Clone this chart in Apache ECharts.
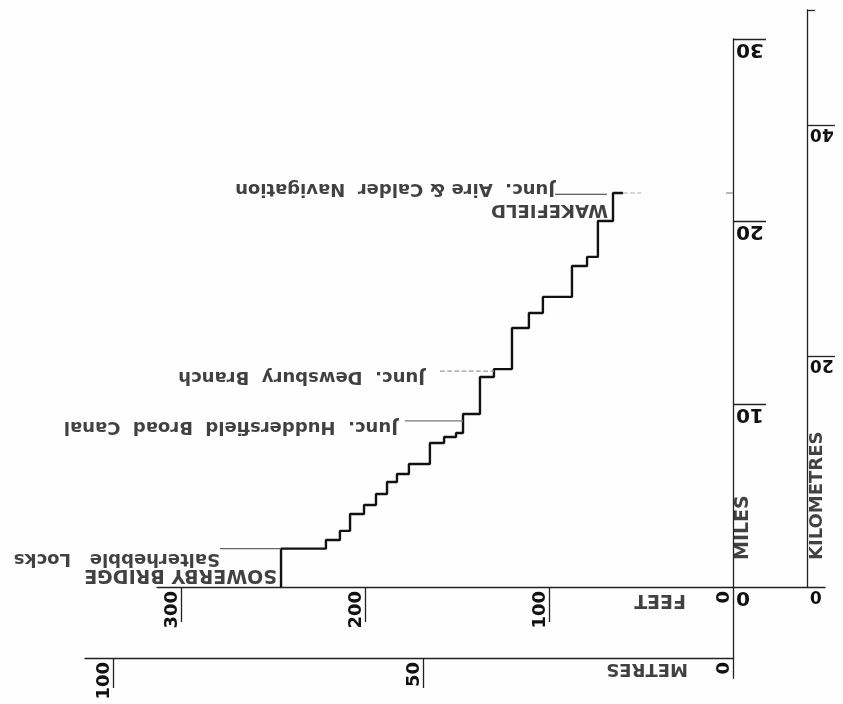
<!DOCTYPE html>
<html><head><meta charset="utf-8">
<script src="https://cdn.jsdelivr.net/npm/echarts@6/dist/echarts.min.js"></script>
<style>html,body{margin:0;padding:0;background:#fefefe}#c{width:843px;height:704px}</style>
</head><body><div id="c"></div>
<script>
// Canal profile (drawn upside-down as in the reference): height in feet vs distance in miles
const lockMiles = [2.1, 2.57, 3.07, 4.0, 4.49, 5.09, 5.75, 6.19, 6.73, 7.88, 8.21, 8.43, 9.47, 11.5, 11.93, 14.18, 15.0, 15.88, 17.57, 18.07, 20.04, 21.57];
const poundFeet = [245.6, 221.2, 213.6, 208.1, 200.5, 194.0, 188.0, 182.6, 176.1, 164.7, 157.0, 150.5, 146.7, 137.5, 129.9, 120.1, 110.9, 103.3, 87.5, 79.3, 73.4, 65.2, 59.8];

// tick values / labels
const feetTicks = [100, 200, 300];
const feetLabels = [0, 100, 200, 300];
const mileTicks = [10, 20, 30];
const mileLabels = [0, 10, 20, 30];
const kmTicks = [20, 40];
const kmTopTick = [50];
const kmLabels = [0, 20, 40];
const metreTicks = [50, 100];
const metreLabels = [0, 50, 100];

// annotations (text, feet, miles, size, rotation, bold)
const noteText  = ['SOWERBY BRIDGE', 'Salterhebble   Locks', 'Junc.  Huddersfield  Broad  Canal', 'Junc.  Dewsbury  Branch', 'WAKEFIELD', 'Junc.  Aire & Calder  Navigation', 'FEET', 'METRES', 'MILES', 'KILOMETRES'];
const noteFeet  = [247.8, 278.8, 182.1, 167.4, 67.9, 96.7, 25.5, 24.5, -5.7, -45.9];
const noteMiles = [0.66, 1.56, 8.76, 11.5, 20.64, 21.82, -0.71, -4.46, 1.48, 1.48];
const noteSize  = [19, 18, 18, 18, 18, 18, 19, 18, 19, 18];
const noteRot   = [180, 180, 180, 180, 180, 180, 180, 180, 90, 90];
const noteBold  = [true, true, true, true, true, true, true, true, true, true];

// leader lines: [fromFeet, toFeet, mile]
const leaderFrom  = [278.8, 178.3, 159.2, 96.7, 59.8, 3.8];
const leaderTo    = [245.6, 146.7, 129.9, 68.5, 50.0, 0];
const leaderMile  = [2.1, 9.09, 11.82, 21.5, 21.57, 21.57];
const leaderColor = ['#666', '#777', '#999', '#333', '#aaa', '#888'];
const leaderDash  = ['solid', 'solid', 'dashed', 'solid', 'dashed', 'solid'];

const FONT = 'DejaVu Sans';
const INK = '#111';

const profile = [[poundFeet[0], 0]];
lockMiles.forEach((m, i) => {
  profile.push([poundFeet[i], m]);
  profile.push([poundFeet[i + 1], m]);
});

const axLine = {show: true, onZero: false, lineStyle: {color: '#222', width: 1.3}};
const tickStyle = {color: '#222', width: 1.3};
const digit = (size) => ({fontSize: size, fontFamily: FONT, fontWeight: 'bold', color: INK});

const series = [{
  type: 'line', xAxisIndex: 0, yAxisIndex: 0, data: profile, showSymbol: false,
  lineStyle: {color: INK, width: 2.4}, clip: false, silent: true
}];
leaderFrom.forEach((f, i) => {
  series.push({
    type: 'line', xAxisIndex: 0, yAxisIndex: 0, showSymbol: false, clip: false, silent: true,
    data: [[f, leaderMile[i]], [leaderTo[i], leaderMile[i]]],
    lineStyle: {color: leaderColor[i], width: 1.2, type: leaderDash[i]}
  });
});
series.push({
  type: 'scatter', xAxisIndex: 0, yAxisIndex: 0, symbolSize: 0.1, clip: false, silent: true,
  itemStyle: {color: 'transparent'},
  label: {show: true, position: 'inside', formatter: p => p.name, color: INK, fontFamily: FONT,
          align: 'left', verticalAlign: 'middle'},
  data: noteText.map((t, i) => ({
    name: t, value: [noteFeet[i], noteMiles[i]],
    label: {fontSize: noteSize[i], rotate: noteRot[i], fontWeight: noteBold[i] ? 'bold' : 'normal'}
  }))
});

const option = {
  backgroundColor: '#fefefe',
  animation: false,
  grid: [
    {left: 157, right: 18, top: 39, bottom: 25.67, outerBoundsMode: 'none'},
    {left: 157, right: 18, top: 39, bottom: 117, outerBoundsMode: 'none'},
    {left: 733, width: 1, top: 39, bottom: 25.67, outerBoundsMode: 'none'},
    {left: 807, width: 1, top: 10, bottom: 117, outerBoundsMode: 'none'},
    {left: 85, right: 110, top: 630, bottom: 46, outerBoundsMode: 'none'}
  ],
  xAxis: [
    {gridIndex: 0, type: 'value', min: -50, max: 313, inverse: true, show: false},
    {gridIndex: 1, type: 'value', min: -50, max: 313, inverse: true, position: 'bottom',
     axisLine: axLine, splitLine: {show: false},
     axisTick: {show: true, customValues: feetTicks, length: 35, lineStyle: tickStyle},
     axisLabel: Object.assign({customValues: feetLabels, rotate: 90, align: 'right', verticalAlign: 'bottom', margin: 4}, digit(18))},
    {gridIndex: 2, type: 'value', min: 0, max: 1, show: false},
    {gridIndex: 3, type: 'value', min: 0, max: 1, show: false},
    {gridIndex: 4, type: 'value', min: 0, max: 104.5, inverse: true, position: 'bottom',
     axisLine: axLine, splitLine: {show: false},
     axisTick: {show: true, customValues: metreTicks, length: 30, lineStyle: tickStyle},
     axisLabel: Object.assign({customValues: metreLabels, rotate: 90, align: 'right', verticalAlign: 'bottom', margin: 4}, digit(18))}
  ],
  yAxis: [
    {gridIndex: 0, type: 'value', min: -5, max: 30, show: false},
    {gridIndex: 1, type: 'value', min: 0, max: 30, show: false},
    {gridIndex: 2, type: 'value', min: -5, max: 30, position: 'left',
     axisLine: axLine, splitLine: {show: false},
     axisTick: {show: true, inside: true, customValues: mileTicks, length: 33, lineStyle: tickStyle},
     axisLabel: Object.assign({inside: true, customValues: mileLabels, rotate: 180, align: 'right', verticalAlign: 'bottom', margin: 3}, digit(20))},
    {gridIndex: 3, type: 'value', min: 0, max: 50, position: 'left',
     axisLine: axLine, splitLine: {show: false},
     axisTick: {show: true, inside: true, customValues: kmTicks, length: 28, lineStyle: tickStyle},
     axisLabel: Object.assign({inside: true, customValues: kmLabels, rotate: 180, align: 'right', verticalAlign: 'bottom', margin: 3}, digit(17))},
    {gridIndex: 4, type: 'value', min: 0, max: 1, show: false},
    {gridIndex: 3, type: 'value', min: 0, max: 50, position: 'left',
     axisLine: {show: false}, splitLine: {show: false}, axisLabel: {show: false},
     axisTick: {show: true, inside: true, customValues: kmTopTick, length: 8, lineStyle: tickStyle}}
  ],
  series: series
};

const chart = echarts.init(document.getElementById('c'), null, {renderer: 'canvas'});
chart.setOption(option);
</script>
</body></html>
